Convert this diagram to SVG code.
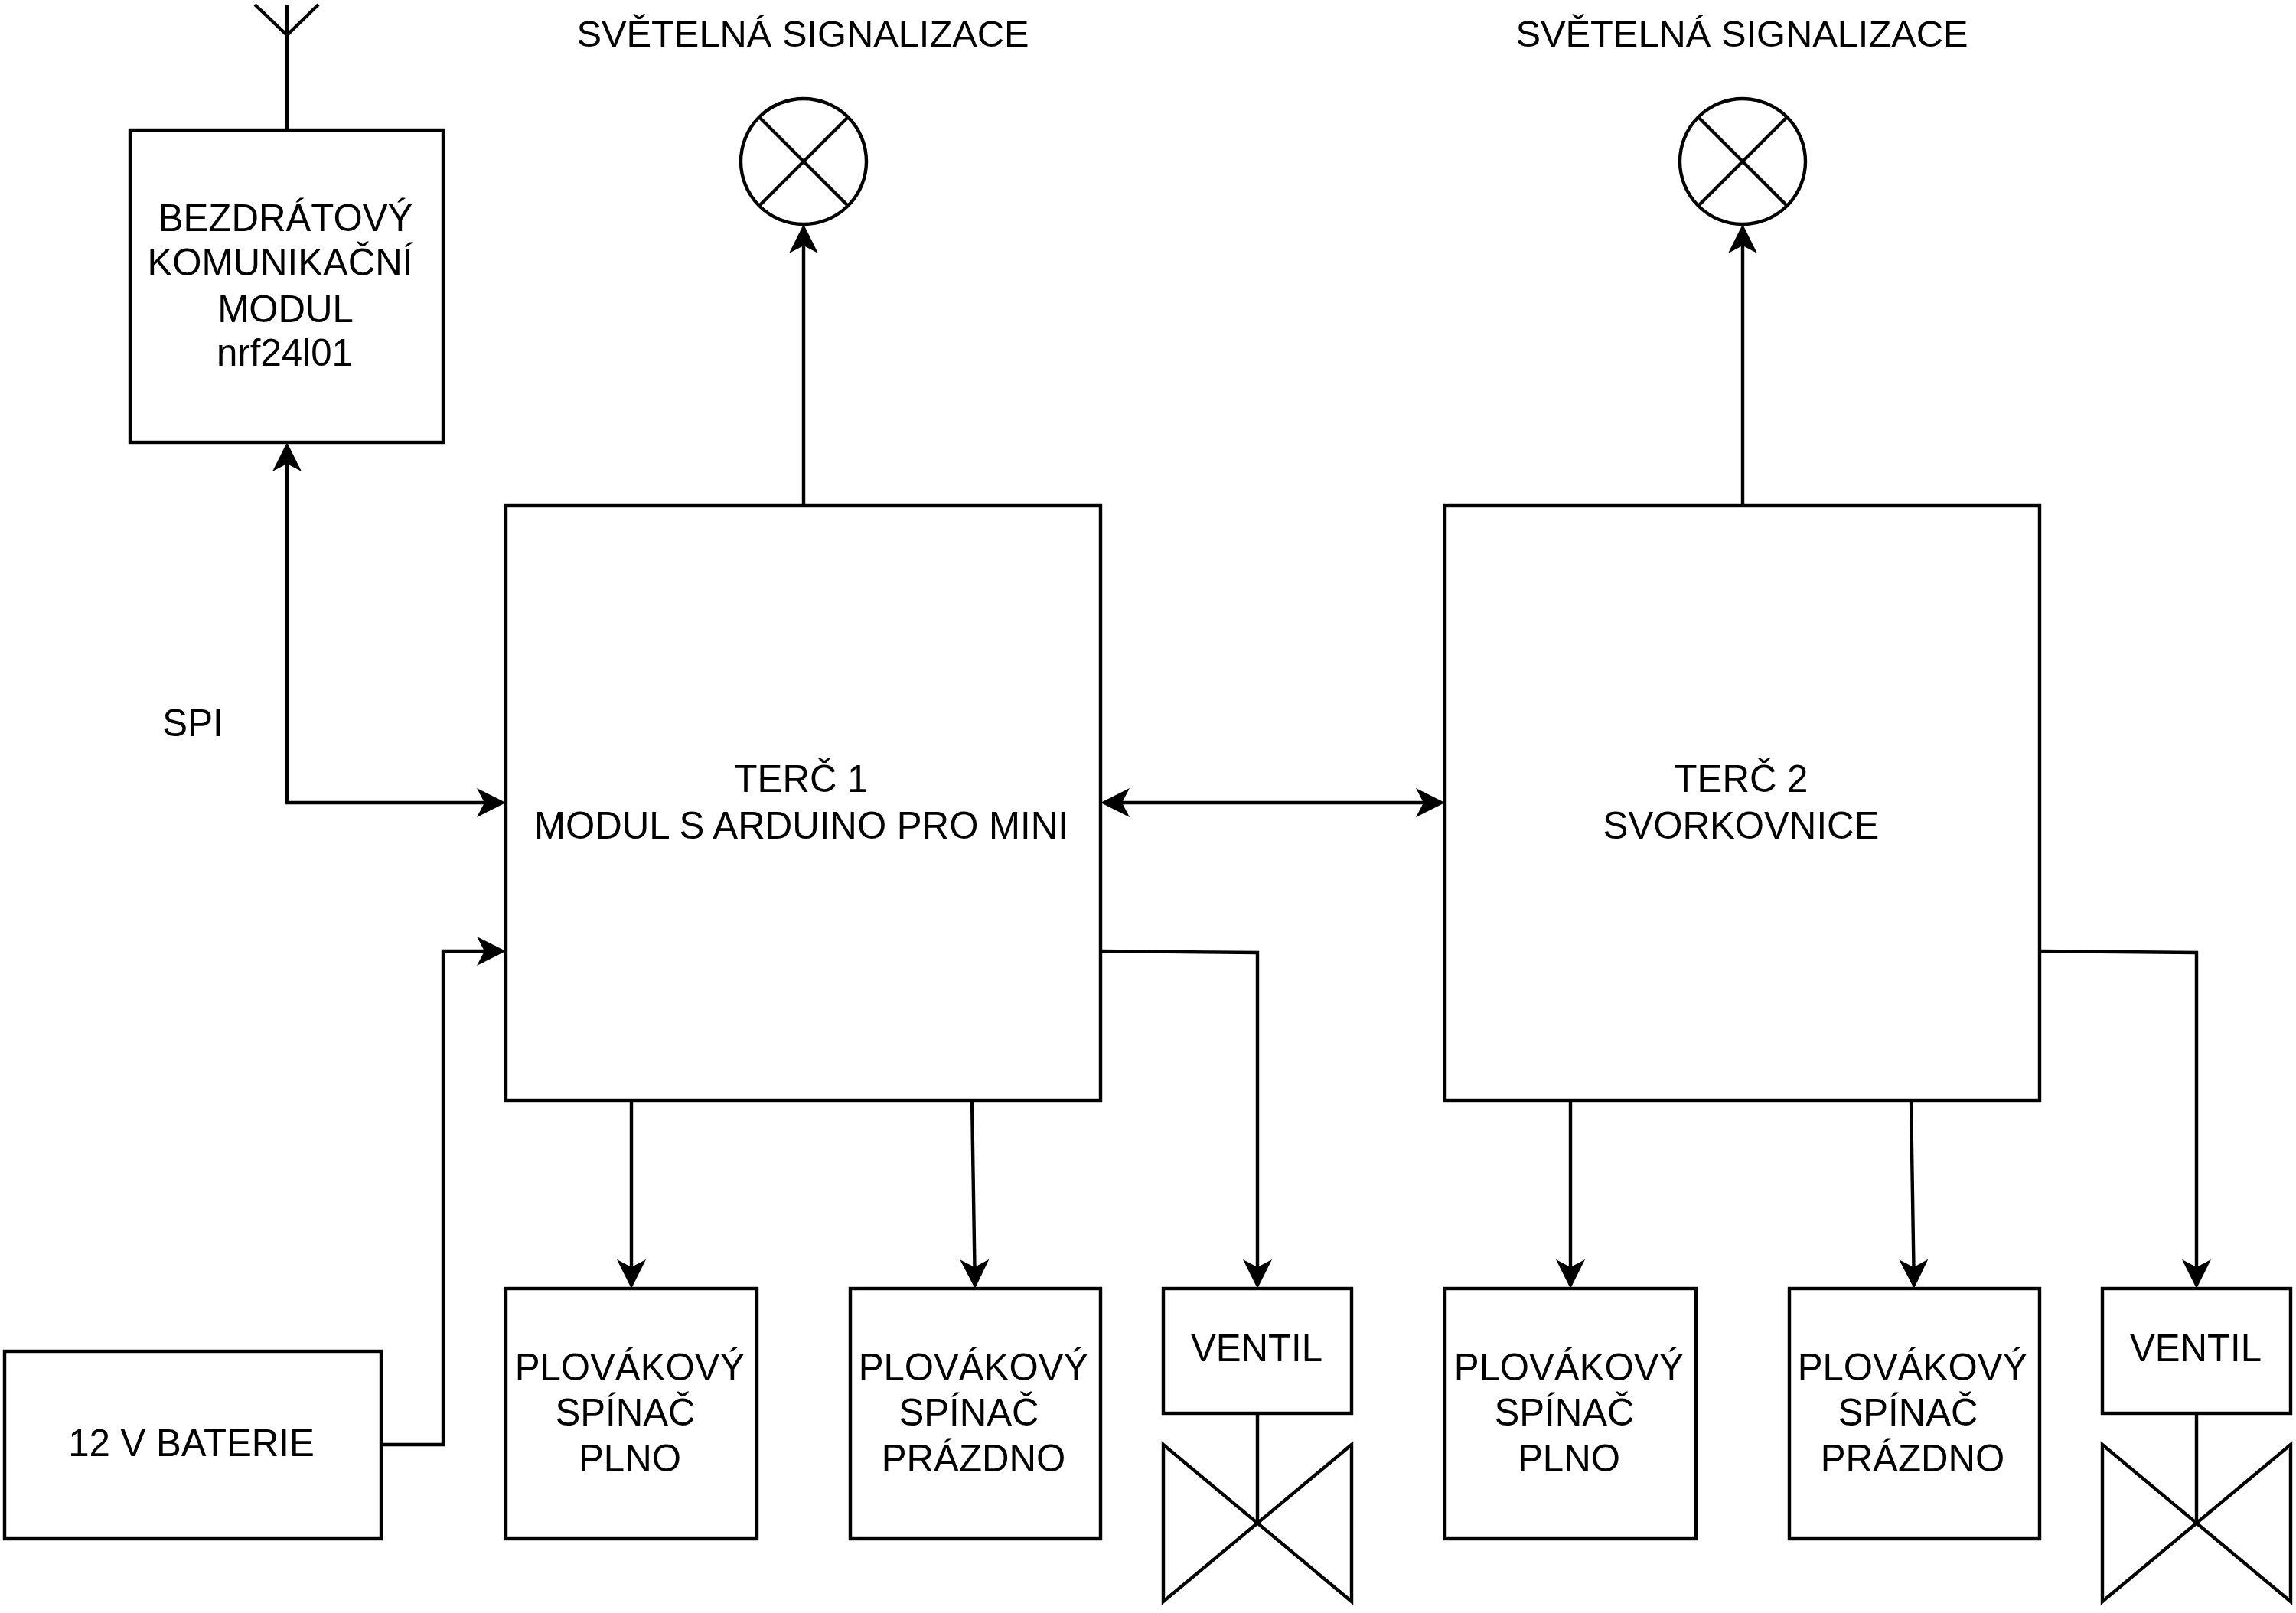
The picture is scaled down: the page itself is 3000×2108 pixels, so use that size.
<svg xmlns="http://www.w3.org/2000/svg" width="3000" height="2108" viewBox="0 0 3000 2108">
<style>
.s{fill:#fff;stroke:#000;stroke-width:4.4}
.l{fill:none;stroke:#000;stroke-width:4.4}
.c{fill:none;stroke:#000;stroke-width:4.4;marker-end:url(#a)}
.b{fill:none;stroke:#000;stroke-width:4.4;marker-start:url(#a);marker-end:url(#a)}
text{font-family:"Liberation Sans",Arial,sans-serif;font-size:49.2px;fill:#000;text-anchor:middle}
.t{font-size:48.8px}
</style>
<defs>
<marker id="a" markerUnits="userSpaceOnUse" markerWidth="40" markerHeight="40" viewBox="0 0 38 40" refX="12" refY="20" orient="auto-start-reverse"><path d="M0,1 L38,20 L0,39 L10,20 Z" fill="#000"/></marker>
</defs>
<rect width="3000" height="2108" fill="#fff"/>
<g id="connectors">
<path class="b" d="M375,604 V1049 H635"/>
<path class="b" d="M1464,1049 H1862"/>
<path class="c" d="M1050,660 V319"/>
<path class="c" d="M2277,660 V319"/>
<path class="c" d="M498,1888 H579 V1243 H635"/>
<path class="c" d="M825,1437 V1658"/>
<path class="c" d="M1270,1437 L1273.5,1658"/>
<path class="c" d="M1438,1243 L1643,1245 V1658"/>
<path class="c" d="M2052,1437 V1658"/>
<path class="c" d="M2497,1437 L2500.5,1658"/>
<path class="c" d="M2665,1243 L2870,1245 V1658"/>
</g>
<g id="antenna"><path class="l" d="M375,170 V6 M333,6 L375,46 L416,6"/></g>
<g id="wireless"><rect class="s" x="170" y="170" width="409" height="408"/>
<text x="373" y="302">BEZDRÁTOVÝ</text><text x="366" y="360">KOMUNIKAČNÍ</text><text x="373" y="421">MODUL</text><text x="372" y="478">nrf24l01</text></g>
<g id="label-spi"><text x="252" y="962">SPI</text></g>
<g id="label-light1"><text class="t" x="1049" y="61">SVĚTELNÁ SIGNALIZACE</text></g>
<g id="label-light2"><text class="t" x="2276" y="61">SVĚTELNÁ SIGNALIZACE</text></g>
<g id="lamp1"><circle class="s" cx="1050" cy="211" r="82"/><path class="l" d="M992,153 L1108,269 M992,269 L1108,153"/></g>
<g id="lamp2"><circle class="s" cx="2277" cy="211" r="82"/><path class="l" d="M2219,153 L2335,269 M2219,269 L2335,153"/></g>
<g id="terc1"><rect class="s" x="661" y="661" width="777" height="777"/>
<text x="1047" y="1035">TERČ 1</text><text x="1047" y="1096">MODUL S ARDUINO PRO MINI</text></g>
<g id="terc2"><rect class="s" x="1888" y="661" width="777" height="777"/>
<text x="2275" y="1035">TERČ 2</text><text x="2275" y="1096">SVORKOVNICE</text></g>
<g id="battery"><rect class="s" x="6" y="1766" width="492" height="245"/><text x="250" y="1903">12 V BATERIE</text></g>
<g id="float1"><rect class="s" x="661" y="1684" width="328" height="327"/>
<text x="823" y="1804">PLOVÁKOVÝ</text><text x="817" y="1863">SPÍNAČ</text><text x="823" y="1923">PLNO</text></g>
<g id="float2"><rect class="s" x="1111" y="1684" width="327" height="327"/>
<text x="1272" y="1804">PLOVÁKOVÝ</text><text x="1266" y="1863">SPÍNAČ</text><text x="1272" y="1923">PRÁZDNO</text></g>
<g id="valve1"><rect class="s" x="1520" y="1684" width="246" height="163"/><text x="1642" y="1779">VENTIL</text>
<path class="l" d="M1643,1847 V1990 M1520,1888 L1766,2093 V1888 L1520,2093 Z"/></g>
<g id="float3"><rect class="s" x="1888" y="1684" width="328" height="327"/>
<text x="2050" y="1804">PLOVÁKOVÝ</text><text x="2044" y="1863">SPÍNAČ</text><text x="2050" y="1923">PLNO</text></g>
<g id="float4"><rect class="s" x="2338" y="1684" width="327" height="327"/>
<text x="2499" y="1804">PLOVÁKOVÝ</text><text x="2493" y="1863">SPÍNAČ</text><text x="2499" y="1923">PRÁZDNO</text></g>
<g id="valve2"><rect class="s" x="2747" y="1684" width="246" height="163"/><text x="2869" y="1779">VENTIL</text>
<path class="l" d="M2870,1847 V1990 M2747,1888 L2993,2093 V1888 L2747,2093 Z"/></g>
</svg>
